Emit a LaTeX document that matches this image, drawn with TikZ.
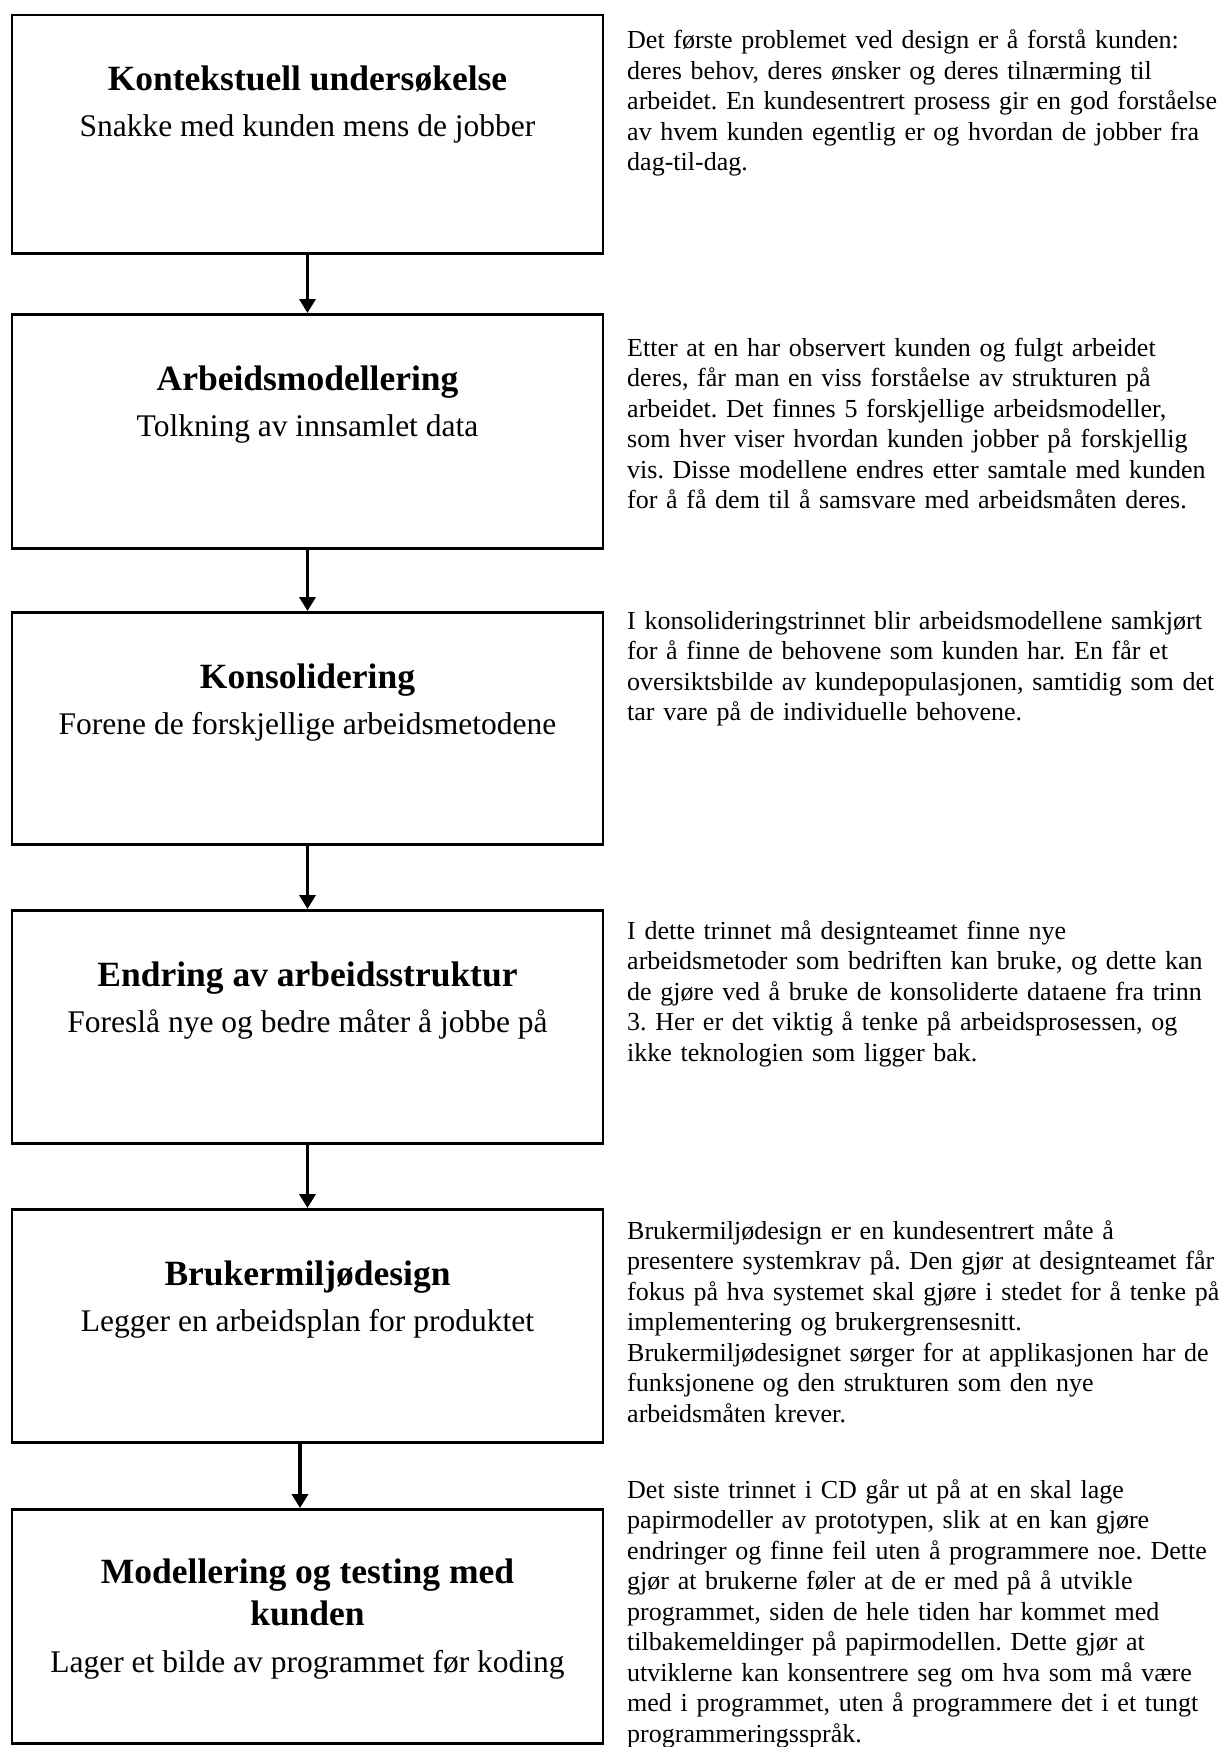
\documentclass[tikz,border=0pt]{standalone}
\usepackage{fontspec}
\setmainfont{Liberation Serif}
\usetikzlibrary{arrows.meta}

\tikzset{
  stepbox/.style={draw=black, line width=2.5pt, fill=none, inner sep=0pt,
    minimum width=591pt, anchor=north},
  steptitle/.style={anchor=base, align=center, inner sep=0pt,
    font=\fontsize{35.5}{42}\selectfont\bfseries},
  stepsub/.style={anchor=base, inner sep=0pt,
    font=\fontsize{31.5}{36}\selectfont},
  stepnote/.style={anchor=base west, inner sep=0pt, text width=640pt, align=left,
    font=\fontsize{26}{30.5}\selectfont\frenchspacing},
  flow/.style={line width=3.5pt, -{Triangle[length=14pt,width=16pt]}}
}

\begin{document}
\frenchspacing
\begin{tikzpicture}[x=1pt,y=-1pt]
\useasboundingbox (0,0) rectangle (1221,1747);

% process boxes
\node[stepbox, minimum height=238pt] (b1) at (307.5,14) {};
\node[stepbox, minimum height=234pt] (b2) at (307.5,313) {};
\node[stepbox, minimum height=232pt] (b3) at (307.5,611) {};
\node[stepbox, minimum height=233pt] (b4) at (307.5,909) {};
\node[stepbox, minimum height=233pt] (b5) at (307.5,1208) {};
\node[stepbox, minimum height=234pt] (b6) at (307.5,1508) {};

% box titles and subtitles
\node[steptitle] (t1) at (307.5,91) {Kontekstuell undersøkelse};
\node[stepsub]   (s1) at (307.5,137) {Snakke med kunden mens de jobber};
\node[steptitle] (t2) at (307.5,390) {Arbeidsmodellering};
\node[stepsub]   (s2) at (307.5,436) {Tolkning av innsamlet data};
\node[steptitle] (t3) at (307.5,688) {Konsolidering};
\node[stepsub]   (s3) at (307.5,734) {Forene de forskjellige arbeidsmetodene};
\node[steptitle] (t4) at (307.5,986) {Endring av arbeidsstruktur};
\node[stepsub]   (s4) at (307.5,1032) {Foreslå nye og bedre måter å jobbe på};
\node[steptitle] (t5) at (307.5,1285) {Brukermiljødesign};
\node[stepsub]   (s5) at (307.5,1331) {Legger en arbeidsplan for produktet};
% two-line title: the base anchor sits on its last line
\node[steptitle] (t6) at (307.5,1625) {Modellering og testing med\\kunden};
\node[stepsub]   (s6) at (307.5,1672) {Lager et bilde av programmet før koding};

% connectors
\draw[flow] (b1.south) -- (b2.north);
\draw[flow] (b2.south) -- (b3.north);
\draw[flow] (b3.south) -- (b4.north);
\draw[flow] (b4.south) -- (b5.north);
\draw[flow] ([xshift=-7.5pt]b5.south) -- ([xshift=-7.5pt]b6.north);

% descriptions
\node[stepnote] (n1) at (627,49) {Det første problemet ved design er å forstå kunden:\\
deres behov, deres ønsker og deres tilnærming til\\
arbeidet. En kundesentrert prosess gir en god forståelse\\
av hvem kunden egentlig er og hvordan de jobber fra\\
dag-til-dag.};

\node[stepnote] (n2) at (627,356) {Etter at en har observert kunden og fulgt arbeidet\\
deres, får man en viss forståelse av strukturen på\\
arbeidet. Det finnes 5 forskjellige arbeidsmodeller,\\
som hver viser hvordan kunden jobber på forskjellig\\
vis. Disse modellene endres etter samtale med kunden\\
for å få dem til å samsvare med arbeidsmåten deres.};

\node[stepnote] (n3) at (627,629) {I konsolideringstrinnet blir arbeidsmodellene samkjørt\\
for å finne de behovene som kunden har. En får et\\
oversiktsbilde av kundepopulasjonen, samtidig som det\\
tar vare på de individuelle behovene.};

\node[stepnote] (n4) at (627,939) {I dette trinnet må designteamet finne nye\\
arbeidsmetoder som bedriften kan bruke, og dette kan\\
de gjøre ved å bruke de konsoliderte dataene fra trinn\\
3. Her er det viktig å tenke på arbeidsprosessen, og\\
ikke teknologien som ligger bak.};

\node[stepnote] (n5) at (627,1239) {Brukermiljødesign er en kundesentrert måte å\\
presentere systemkrav på. Den gjør at designteamet får\\
fokus på hva systemet skal gjøre i stedet for å tenke på\\
implementering og brukergrensesnitt.\\
Brukermiljødesignet sørger for at applikasjonen har de\\
funksjonene og den strukturen som den nye\\
arbeidsmåten krever.};

\node[stepnote] (n6) at (627,1498) {Det siste trinnet i CD går ut på at en skal lage\\
papirmodeller av prototypen, slik at en kan gjøre\\
endringer og finne feil uten å programmere noe. Dette\\
gjør at brukerne føler at de er med på å utvikle\\
programmet, siden de hele tiden har kommet med\\
tilbakemeldinger på papirmodellen. Dette gjør at\\
utviklerne kan konsentrere seg om hva som må være\\
med i programmet, uten å programmere det i et tungt\\
programmeringsspråk.};
\end{tikzpicture}
\end{document}
